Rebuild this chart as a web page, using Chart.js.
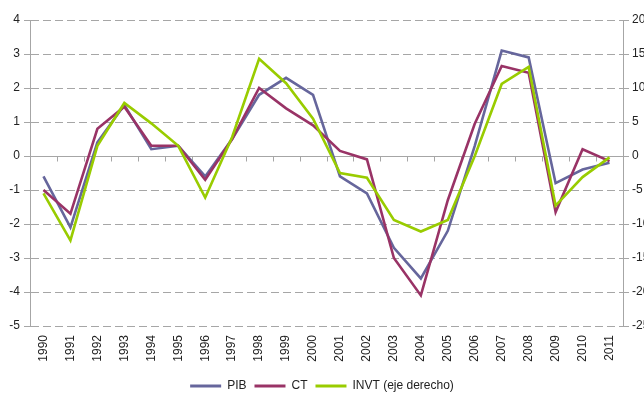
<!DOCTYPE html>
<html>
<head>
<meta charset="utf-8">
<script src="https://cdn.jsdelivr.net/npm/chart.js@4.4.1/dist/chart.umd.min.js"></script>
<style>
  html, body { margin: 0; padding: 0; background: #fff; }
  #wrap { width: 644px; height: 402px; position: relative; }
</style>
</head>
<body>
<div id="wrap"><canvas id="chart"></canvas></div>
<script>
// --- datos ---
const years = ["1990", "1991", "1992", "1993", "1994", "1995", "1996", "1997", "1998", "1999", "2000",
  "2001", "2002", "2003", "2004", "2005", "2006", "2007", "2008", "2009", "2010", "2011"];
const pib = [-0.6, -2.1, 0.4, 1.5, 0.2, 0.3, -0.6, 0.5, 1.8, 2.3, 1.8,
  -0.6, -1.1, -2.7, -3.6, -2.2, 0.3, 3.1, 2.9, -0.8, -0.4, -0.2];
const ct = [-1.0, -1.7, 0.8, 1.45, 0.3, 0.3, -0.7, 0.5, 2.0, 1.4, 0.9,
  0.15, -0.1, -3.0, -4.1, -1.3, 0.95, 2.65, 2.45, -1.65, 0.2, -0.15];
const invt = [-5.5, -12.4, 1.5, 7.8, 4.8, 1.5, -6.1, 2.8, 14.3, 10.7, 5.5,
  -2.5, -3.2, -9.4, -11.1, -9.4, 0, 10.6, 13.1, -7.3, -3.1, -0.2];

const FONT = "'Liberation Sans', Arial, sans-serif";
const GRIS = "#a6a6a6";

// linea del cero con marcas de categoria
const zeroLine = {
  id: "zeroLine",
  beforeDatasetsDraw(chart) {
    const { ctx, chartArea, scales } = chart;
    const y0 = Math.round(scales.y.getPixelForValue(0)) + 0.5;
    const n = years.length;
    const w = (chartArea.right - chartArea.left) / n;
    ctx.save();
    ctx.strokeStyle = GRIS;
    ctx.lineWidth = 1;
    ctx.beginPath();
    ctx.moveTo(chartArea.left, y0);
    ctx.lineTo(chartArea.right, y0);
    for (let i = 1; i < n; i++) {
      const x = Math.round(chartArea.left + i * w) + 0.5;
      ctx.moveTo(x, y0);
      ctx.lineTo(x, y0 + 5);
    }
    ctx.stroke();
    ctx.restore();
  }
};

const ctx = document.getElementById("chart").getContext("2d");
new Chart(ctx, {
  type: "line",
  data: {
    labels: years,
    datasets: [
      { label: "PIB", data: pib, yAxisID: "y", borderColor: "#66669c", backgroundColor: "#66669c", order: 3 },
      { label: "CT", data: ct, yAxisID: "y", borderColor: "#993366", backgroundColor: "#993366", order: 2 },
      { label: "INVT (eje derecho)", data: invt, yAxisID: "y2", borderColor: "#99cc00", backgroundColor: "#99cc00", order: 1 },
    ],
  },
  options: {
    responsive: true,
    maintainAspectRatio: false,
    animation: false,
    layout: { padding: { top: 20, left: 0, right: 0, bottom: 0 } },
    elements: {
      line: { borderWidth: 2.6, tension: 0, borderJoinStyle: "miter" },
      point: { radius: 0 },
    },
    plugins: {
      tooltip: { enabled: false },
      legend: {
        position: "bottom",
        labels: {
          font: { family: FONT, size: 12 },
          color: "#222",
          boxWidth: 31,
          boxHeight: 3,
          padding: 8,
          sort: (a, b) => a.datasetIndex - b.datasetIndex,
          generateLabels(chart) {
            const items = Chart.defaults.plugins.legend.labels.generateLabels(chart);
            items.forEach(it => { it.lineWidth = 0; });
            return items;
          },
        },
      },
    },
    scales: {
      x: {
        offset: true,
        grid: { display: false, drawTicks: false },
        border: { display: false },
        ticks: {
          autoSkip: false,
          maxRotation: 90,
          minRotation: 90,
          padding: 9,
          font: { family: FONT, size: 12 },
          color: "#222",
        },
        afterFit(scale) { scale.height = 46; },
      },
      y: {
        position: "left",
        min: -5,
        max: 4,
        ticks: { stepSize: 1, padding: 4, font: { family: FONT, size: 12 }, color: "#222" },
        grid: { color: GRIS, tickLength: 6, tickColor: GRIS, tickBorderDash: [] },
        border: { display: true, color: GRIS, dash: [8, 4] },
        afterFit(scale) { scale.width = 30; },
      },
      y2: {
        position: "right",
        min: -25,
        max: 20,
        ticks: { stepSize: 5, padding: 3, font: { family: FONT, size: 12 }, color: "#222" },
        grid: { drawOnChartArea: false, tickLength: 6, tickColor: GRIS },
        border: { display: true, color: GRIS },
        afterFit(scale) { scale.width = 21; },
      },
    },
  },
  plugins: [zeroLine],
});
</script>
</body>
</html>
